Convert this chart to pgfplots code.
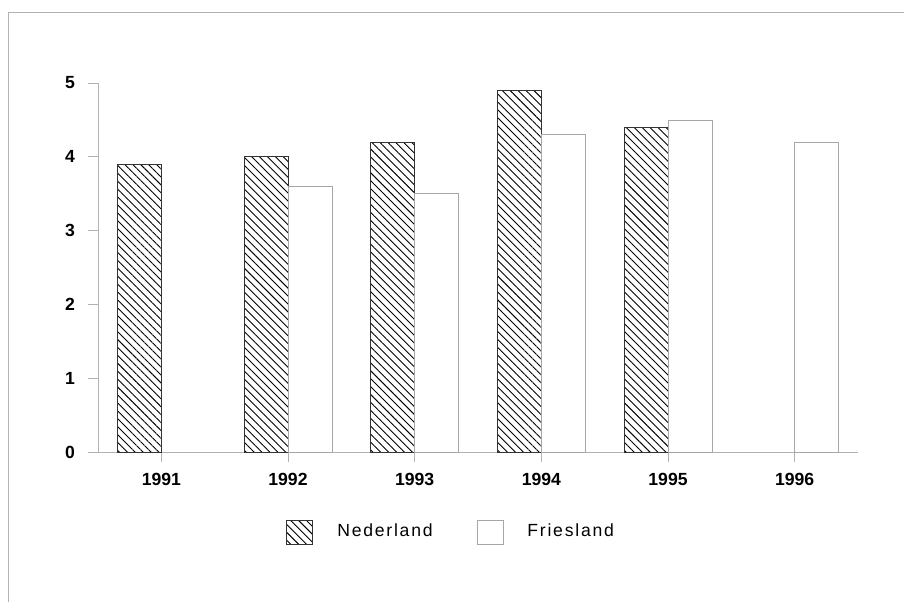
\documentclass[border=0pt]{standalone}
\usepackage{fontspec}
\setmainfont{Liberation Sans}
\newfontfamily\spaced[LetterSpace=10]{Liberation Sans}
\usepackage{pgfplots}
\pgfplotsset{compat=1.18}
\usetikzlibrary{patterns.meta}
\begin{document}
\begin{tikzpicture}[x=1pt,y=1pt]
\useasboundingbox (0,0) rectangle (452,301);
\draw[gray!60, line width=0.5pt] (4,0) -- (4,295) -- (452,295);
\begin{axis}[
  at={(49pt,75pt)}, anchor=south west,
  scale only axis, width=380pt, height=184.5pt,
  xmin=-0.5, xmax=5.5, ymin=0, ymax=5,
  axis x line*=bottom, axis y line*=left,
  axis line style={gray!60, line width=0.4pt},
  xtick={0,1,2,3,4,5},
  xticklabels={1991,1992,1993,1994,1995,1996},
  ytick={0,1,2,3,4,5},
  tick align=outside, major tick length=5pt,
  tick style={gray!60, line width=0.4pt},
  /pgf/number format/assume math mode=true,
  tick label style={font=\bfseries\fontsize{8.8}{10}\selectfont},
  xticklabel style={yshift=-2pt},
  yticklabel style={xshift=-3pt},
  ybar, bar width=22pt,
  legend image code/.code={\draw[#1] (0pt,-6pt) rectangle (13pt,6pt); \path (23pt,0pt);},
  legend style={at={(0.466,-0.217)}, anchor=center, draw=none, fill=none,
    legend columns=2, font=\spaced\fontsize{8.8}{10}\selectfont,
    /tikz/every even column/.append style={column sep=20pt}},
]
\addplot[bar shift=-11pt, draw=black!80, line width=0.45pt, fill=white,
  pattern={Lines[angle=-45,distance=2.8pt,line width=0.45pt]}, pattern color=black]
  coordinates {(0,3.9) (1,4.0) (2,4.2) (3,4.9) (4,4.4)};
\addlegendentry{Nederland}
\addplot[bar shift=11pt, draw=gray!70, line width=0.4pt, fill=white]
  coordinates {(1,3.6) (2,3.5) (3,4.3) (4,4.5) (5,4.2)};
\addlegendentry{Friesland}
\end{axis}
\end{tikzpicture}
\end{document}
